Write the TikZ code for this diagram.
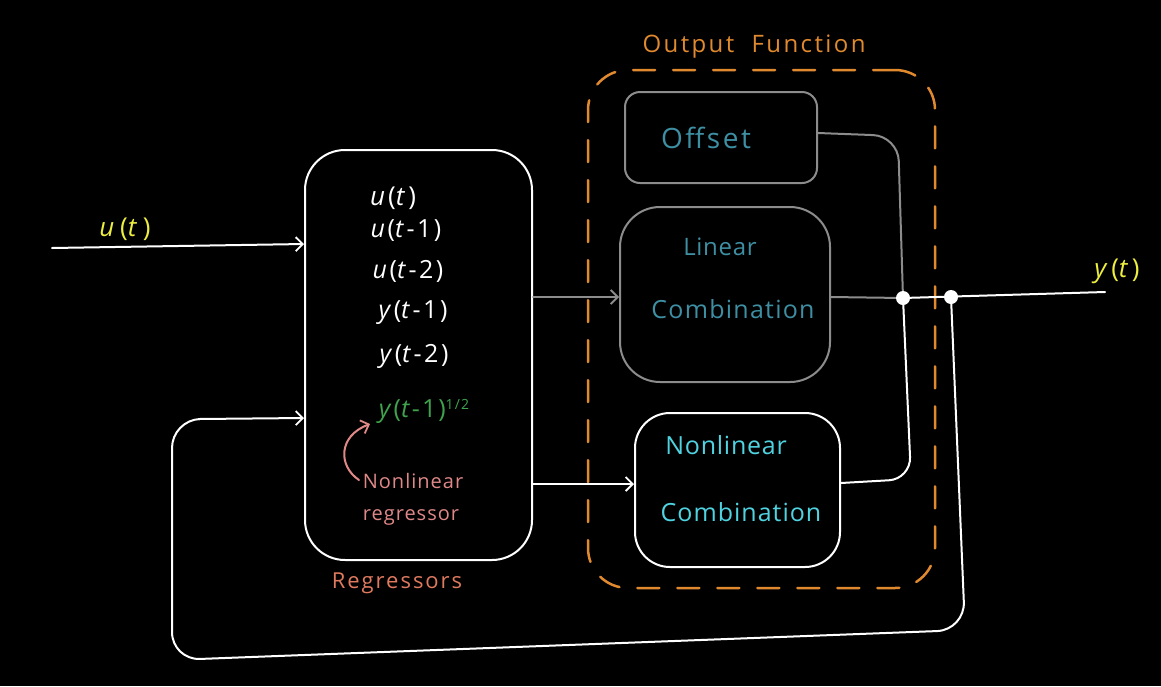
\documentclass[tikz,border=0pt]{standalone}
\usepackage{fontspec}
\setmainfont{Open Sans}
\usetikzlibrary{arrows.meta}
\definecolor{boxgray}{HTML}{8C8C8C}
\definecolor{tealtxt}{HTML}{3E8FA3}
\definecolor{cyantxt}{HTML}{4FD3E0}
\definecolor{greentxt}{HTML}{3FA34D}
\definecolor{pinktxt}{HTML}{E08888}
\definecolor{regtxt}{HTML}{E07A5F}
\definecolor{orangec}{HTML}{E0892E}
\definecolor{yellowc}{HTML}{EEEE40}
\newcommand{\hw}[2]{\fontsize{#1}{#1}\selectfont\addfontfeatures{LetterSpace=#2}}
\begin{document}
\begin{tikzpicture}[x=1pt,y=-1pt,line cap=round,line join=round,
  box/.style={draw, rounded corners=#1, inner sep=0pt, line width=2pt},
  txt/.style={inner sep=0pt},
  tip/.style={-{Straight Barb[length=7pt,width=14pt,line width=1.8pt]}},
  wire/.style={line width=2pt}]
\fill[black] (0,0) rectangle (1161,686);
\useasboundingbox (0,0) rectangle (1161,686);

% Regressors block
\node[box=40, draw=white, minimum width=227, minimum height=410] (reg) at (418.5,355) {};
\node[txt, white, font=\hw{26}{12}] (r1) at (393,198) {\textit{u}(\textit{t})};
\node[txt, white, font=\hw{25}{10}] (r2) at (406,231) {\textit{u}(\textit{t}-1)};
\node[txt, white, font=\hw{25}{10}] (r3) at (408,271) {\textit{u}(\textit{t}-2)};
\node[txt, white, font=\hw{25}{10}] (r4) at (413,313) {\textit{y}(\textit{t}-1)};
\node[txt, white, font=\hw{25}{10}] (r5) at (414,356) {\textit{y}(\textit{t}-2)};
\node[txt, greentxt, font=\hw{25}{8}] (r6) at (424,411) {\textit{y}(\textit{t}-1)\raisebox{0.6ex}{\fontsize{14}{14}\selectfont 1/2}};
\node[txt, pinktxt, align=left, font={\fontsize{20}{32}\selectfont\addfontfeatures{LetterSpace=5}}] (nlr) at (413,499) {Nonlinear\\regressor};
\coordinate (pa) at (359,480);
\coordinate (pb) at (370,424);
\draw[pinktxt, wire, tip] (pa) .. controls (338,466) and (338,436) .. (pb);
\node[txt, regtxt, font=\hw{22}{9}] (reglab) at (397,583) {Regressors};

% Output function
\node[draw=orangec, line width=2.5pt, dash pattern=on 22pt off 18pt, rounded corners=40, minimum width=347, minimum height=518, inner sep=0pt] (of) at (761.5,329) {};
\node[txt, orangec, font=\hw{24}{10}] (oflab) at (754,47) {Output\ \ Function};

\node[box=15, draw=boxgray, minimum width=192, minimum height=91] (off) at (721,137.5) {};
\node[txt, tealtxt, font=\hw{28}{9}] at (706,138) {Offset};
\node[box=40, draw=boxgray, minimum width=210, minimum height=175] (lin) at (725,294.5) {};
\node[txt, tealtxt, font=\hw{24}{3}] at (720,247) {Linear};
\node[txt, tealtxt, font=\hw{25}{5}] at (733,309) {Combination};
\node[box=35, draw=white, minimum width=205, minimum height=154] (nl) at (737.5,490) {};
\node[txt, cyantxt, font=\hw{25}{3}] at (726,445) {Nonlinear};
\node[txt, cyantxt, font=\hw{25}{4}] at (741,512) {Combination};

% input
\coordinate (uin) at (52,248);
\node[txt, yellowc, font=\hw{26}{22}] (ulab) at (125,229) {\textit{u}(\textit{t})};
\draw[white, wire, tip] (uin) -- (reg.west |- 0,244);

% regressors to functions
\draw[boxgray, wire, tip] (reg.east |- 0,297) -- (lin.west |- 0,297);
\draw[white, wire, tip] (reg.east |- 0,484) -- (nl.west |- 0,484);

% junctions
\coordinate (j1) at (903,298);
\coordinate (j2) at (951,297);
\coordinate (yend) at (1105,292);
\draw[boxgray, wire, rounded corners=25] (off.east |- 0,133) -- (898,136) -- (j1);
\draw[boxgray, wire] (lin.east |- 0,297) -- (j1);
\draw[white, wire, rounded corners=22] (nl.east |- 0,483) -- (911,479) -- (j1);
\draw[white, wire] (j1) -- (yend);
\node[txt, yellowc, font=\hw{26}{14}] (ylab) at (1117,271) {\textit{y}(\textit{t})};

% feedback
\draw[white, wire, rounded corners=28] (j2) -- (965,630) -- (172,660) -- (172,420) -- (200,419);
\draw[white, wire, tip] (199,419) -- (reg.west |- 0,418);

\fill[white] (j1) circle (7);
\fill[white] (j2) circle (7);
\end{tikzpicture}
\end{document}
